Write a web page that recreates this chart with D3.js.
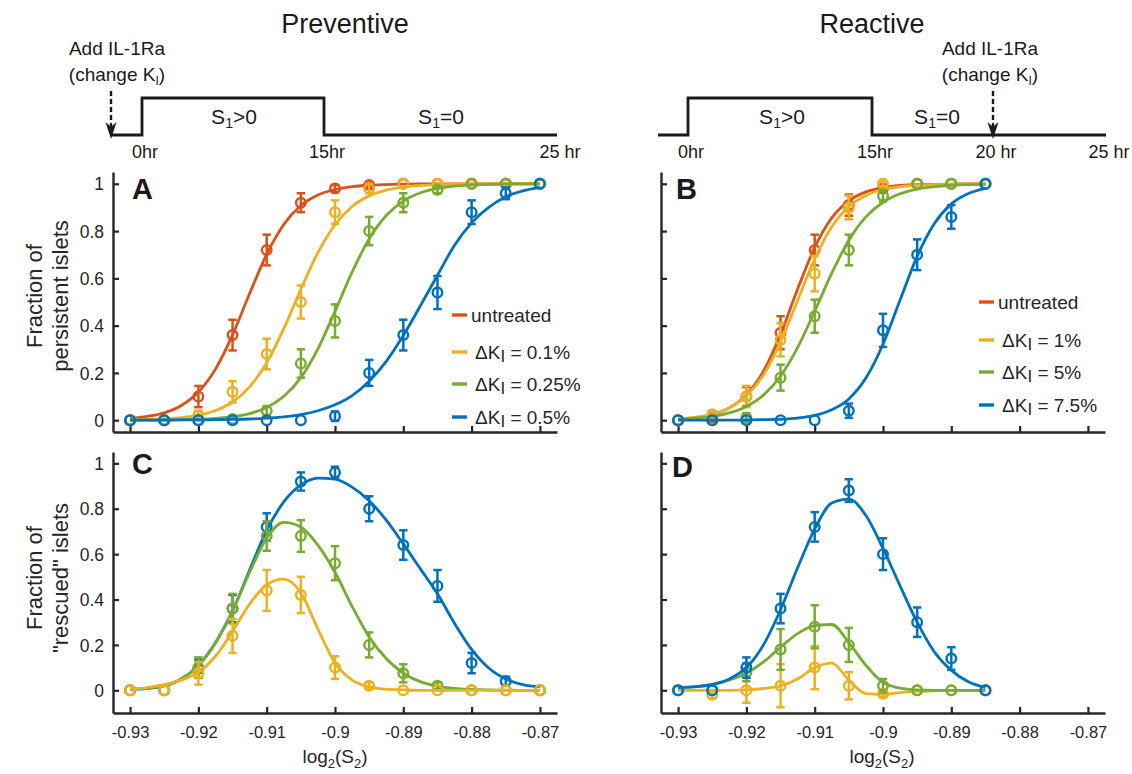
<!DOCTYPE html>
<html><head><meta charset="utf-8">
<script src="https://cdn.jsdelivr.net/npm/d3@7"></script>
<style>body{margin:0;background:#fff}svg{display:block}</style>
</head><body>
<svg id="c" width="1132" height="774"></svg>
<script>
// ---------------- DATA ----------------
const xFull  = [-0.93,-0.925,-0.92,-0.915,-0.91,-0.905,-0.9,-0.895,-0.89,-0.885,-0.88,-0.875,-0.87];
const xShort = [-0.93,-0.925,-0.92,-0.915,-0.91,-0.905,-0.9,-0.895,-0.89,-0.885];
const fitXFull  = [-0.93,-0.9275,-0.925,-0.9225,-0.92,-0.9175,-0.915,-0.9125,-0.91,-0.9075,-0.905,-0.9025,-0.9,-0.8975,-0.895,-0.8925,-0.89,-0.8875,-0.885,-0.8825,-0.88,-0.8775,-0.875,-0.8725,-0.87];
const fitXShort = [-0.93,-0.9275,-0.925,-0.9225,-0.92,-0.9175,-0.915,-0.9125,-0.91,-0.9075,-0.905,-0.9025,-0.9,-0.8975,-0.895,-0.8925,-0.89,-0.8875,-0.885];
const xTicks = [-0.93,-0.92,-0.91,-0.9,-0.89,-0.88,-0.87];
const yTicks = [0,0.2,0.4,0.6,0.8,1];

// Panel A (preventive, persistent)
const persistA_untreated = [0,0,0.10,0.36,0.72,0.92,0.98,0.995,1,1,1,1,1];
const errA_untreated     = [0,0,0.045,0.065,0.065,0.04,0.015,0.01,0,0,0,0,0];
const persistA_k01 = [0,0,0.02,0.12,0.28,0.50,0.88,0.98,1,1,1,1,1];
const errA_k01     = [0,0,0.02,0.045,0.065,0.07,0.05,0.02,0,0,0,0,0];
const persistA_k025 = [0,0,0,0.005,0.04,0.24,0.42,0.80,0.92,0.975,1,1,1];
const errA_k025     = [0,0,0,0,0.02,0.06,0.07,0.06,0.04,0.015,0,0,0];
const persistA_k05 = [0,0,0,0,0,0,0.017,0.20,0.36,0.54,0.88,0.96,1];
const errA_k05     = [0,0,0,0,0,0,0.02,0.055,0.065,0.07,0.05,0.025,0];
const fitA_untreated = [0.008,0.016,0.031,0.062,0.119,0.216,0.361,0.536,0.702,0.828,0.908,0.953,0.976,0.988,0.994,0.997,0.999,1,1,1,1,1,1,1,1];
const fitA_k01  = [0.001,0.003,0.006,0.011,0.021,0.041,0.077,0.141,0.243,0.387,0.554,0.709,0.827,0.904,0.949,0.973,0.986,0.993,0.996,0.998,0.999,1,1,1,1];
const fitA_k025 = [0,0,0.001,0.002,0.004,0.008,0.015,0.028,0.054,0.101,0.180,0.302,0.460,0.626,0.767,0.866,0.927,0.962,0.980,0.990,0.995,0.998,0.999,1,1];
const fitA_k05  = [0,0,0,0.001,0.001,0.002,0.003,0.005,0.009,0.014,0.024,0.040,0.065,0.104,0.165,0.249,0.358,0.484,0.613,0.74,0.835,0.90,0.945,0.97,0.985];

// Panel B (reactive, persistent)
const persistB_untreated = [0,0.01,0.10,0.37,0.72,0.91,0.98,1,1,1];
const errB_untreated     = [0,0.01,0.04,0.07,0.065,0.045,0.015,0,0,0];
const persistB_k1  = [0,0.025,0.10,0.34,0.62,0.90,1,1,1,1];
const errB_k1      = [0,0.015,0.045,0.07,0.075,0.05,0.01,0,0,0];
const persistB_k5  = [0,0,0.01,0.18,0.44,0.72,0.95,1,1,1];
const errB_k5      = [0,0,0.02,0.055,0.07,0.065,0.025,0,0,0];
const persistB_k75 = [0,0,0,0,0,0.04,0.38,0.70,0.86,1];
const errB_k75     = [0,0,0,0,0,0.03,0.07,0.065,0.05,0];
const fitB_untreated = [0.005,0.011,0.024,0.052,0.107,0.207,0.363,0.555,0.731,0.856,0.928,0.966,0.984,0.993,0.997,0.998,0.999,1,1];
const fitB_k1  = [0.006,0.012,0.025,0.052,0.102,0.191,0.330,0.507,0.682,0.818,0.904,0.951,0.976,0.988,0.994,0.997,0.998,0.999,1];
const fitB_k5  = [0.004,0.009,0.016,0.031,0.058,0.106,0.187,0.307,0.461,0.622,0.761,0.860,0.922,0.958,0.978,0.988,0.994,0.997,0.998];
const fitB_k75 = [0,0,0,0,0.001,0.002,0.004,0.009,0.020,0.044,0.090,0.178,0.321,0.508,0.693,0.831,0.915,0.959,0.981];

// Panel C (preventive, rescued)
const rescC_k01  = [0,0,0.075,0.24,0.44,0.42,0.10,0.02,0,0,0,0,0];
const errC_k01   = [0,0,0.05,0.075,0.09,0.08,0.05,0.015,0,0,0,0,0];
const rescC_k025 = [0,0,0.10,0.36,0.68,0.68,0.56,0.20,0.075,0.02,0,0,0];
const errC_k025  = [0,0,0.045,0.065,0.065,0.07,0.075,0.055,0.04,0.015,0,0,0];
const rescC_k05  = [0,0,0.095,0.36,0.72,0.92,0.96,0.80,0.64,0.46,0.12,0.04,0];
const errC_k05   = [0,0,0.04,0.06,0.06,0.04,0.025,0.055,0.065,0.07,0.045,0.02,0];
const fitC_k05  = [0.005,0.008,0.02,0.05,0.11,0.21,0.35,0.53,0.705,0.83,0.905,0.935,0.93,0.895,0.835,0.75,0.645,0.535,0.425,0.295,0.18,0.098,0.05,0.025,0.015];
const fitC_k025 = [0.005,0.01,0.02,0.05,0.11,0.21,0.35,0.52,0.67,0.74,0.72,0.64,0.52,0.37,0.235,0.14,0.075,0.038,0.018,0.008,0.004,0.002,0.001,0,0];
const fitC_k01  = [0.005,0.012,0.025,0.045,0.08,0.15,0.26,0.38,0.465,0.49,0.43,0.27,0.12,0.045,0.015,0.005,0.002,0,0,0,0,0,0,0,0];

// Panel D (reactive, rescued)
const rescD_k1  = [0,-0.02,0,0.02,0.10,0.02,-0.015,0,0,0];
const errD_k1   = [0,0.015,0.055,0.095,0.095,0.06,0.015,0,0,0];
const rescD_k5  = [0,0,0.08,0.18,0.28,0.20,0.02,0,0,0];
const errD_k5   = [0,0,0.04,0.09,0.095,0.075,0.03,0,0,0];
const rescD_k75 = [0,0,0.10,0.36,0.72,0.88,0.60,0.30,0.14,0];
const errD_k75  = [0,0,0.045,0.065,0.065,0.05,0.07,0.065,0.05,0];
const fitD_k75 = [0.012,0.016,0.026,0.05,0.10,0.20,0.355,0.54,0.71,0.825,0.842,0.77,0.625,0.46,0.30,0.17,0.088,0.038,0.012];
const fitD_k5  = [0.01,0.015,0.025,0.045,0.075,0.125,0.19,0.25,0.285,0.29,0.21,0.11,0.035,0.01,0.002,0,0,0,0];
const fitD_k1  = [0,0,0,0,0.002,0.008,0.02,0.05,0.10,0.12,0.045,-0.015,-0.018,-0.01,-0.005,-0.002,0,0,0];

const legendA = ["untreated", ["0.1%"], ["0.25%"], ["0.5%"]];
const legendB = ["untreated", ["1%"], ["5%"], ["7.5%"]];

const timeLabelsPrev = [[0,"0hr"],[15,"15hr"],[25,"25 hr"]];
const timeLabelsReact = [[0,"0hr"],[15,"15hr"],[20,"20 hr"],[25,"25 hr"]];
const stepProfile = [[-2.5,0],[0,0],[0,1],[15,1],[15,0],[25,0]];

// ---------------- DRAWING ----------------
const FONT = '"Liberation Sans", Arial, Helvetica, sans-serif';
const AX = "#262626";
const C_OR = "#D95319", C_YE = "#EDB120", C_GR = "#77AC30", C_BL = "#0072BD";
const svg = d3.select("#c").attr("font-family", FONT);
const xDomain = [-0.9325, -0.8675];
const fmtX = d => String(+d.toFixed(3));
const fmtY = d => String(+d.toFixed(1));

function panel(cfg) {
  const x = d3.scaleLinear().domain(xDomain).range([cfg.left, cfg.right]);
  const y = d3.scaleLinear().domain(cfg.yDomain).range([cfg.bottom, cfg.top]);
  const g = svg.append("g");

  const ax = d3.axisBottom(x).tickValues(xTicks).tickSizeInner(-6).tickSizeOuter(0)
    .tickPadding(13).tickFormat(cfg.xLabels ? fmtX : () => "");
  const gx = g.append("g").attr("transform", `translate(0,${cfg.bottom})`).call(ax);
  const ay = d3.axisLeft(y).tickValues(yTicks).tickSizeInner(-6).tickSizeOuter(0)
    .tickPadding(9).tickFormat(cfg.yLabels ? fmtY : () => "");
  const gy = g.append("g").attr("transform", `translate(${cfg.left},0)`).call(ay);
  [gx, gy].forEach(a => {
    a.select(".domain").attr("stroke", AX).attr("stroke-width", 2.4);
    a.selectAll(".tick line").attr("stroke", AX).attr("stroke-width", 2.2);
    a.selectAll(".tick text").attr("fill", AX).attr("font-family", FONT);
  });
  gx.selectAll(".tick text").attr("font-size", 16.5);
  gy.selectAll(".tick text").attr("font-size", 17.5).attr("dy", "0.35em");

  const line = d3.line().x(d => x(d[0])).y(d => y(d[1])).curve(d3.curveMonotoneX);
  cfg.series.forEach(s => {
    const sg = g.append("g");
    sg.append("path").datum(s.fitX.map((v, i) => [v, s.fitY[i]]))
      .attr("d", line).attr("fill", "none").attr("stroke", s.color).attr("stroke-width", 2.8);
    const pts = s.x.map((v, i) => ({x: v, y: s.y[i], e: s.err[i]}));
    const eb = sg.selectAll(".eb").data(pts.filter(p => p.e > 0)).join("g");
    eb.append("line").attr("x1", p => x(p.x)).attr("x2", p => x(p.x))
      .attr("y1", p => y(p.y - p.e)).attr("y2", p => y(p.y + p.e));
    eb.append("line").attr("x1", p => x(p.x) - 4.2).attr("x2", p => x(p.x) + 4.2)
      .attr("y1", p => y(p.y - p.e)).attr("y2", p => y(p.y - p.e));
    eb.append("line").attr("x1", p => x(p.x) - 4.2).attr("x2", p => x(p.x) + 4.2)
      .attr("y1", p => y(p.y + p.e)).attr("y2", p => y(p.y + p.e));
    eb.selectAll("line").attr("stroke", s.color).attr("stroke-width", 2.5);
    sg.selectAll("circle").data(pts).join("circle")
      .attr("cx", p => x(p.x)).attr("cy", p => y(p.y)).attr("r", 4.8)
      .attr("fill", "none").attr("stroke", s.color).attr("stroke-width", 2.4);
  });

  g.append("text").attr("x", cfg.letterX).attr("y", cfg.letterY).text(cfg.letter)
    .attr("font-size", 29).attr("font-weight", "bold").attr("fill", "#1a1a1a");

  if (cfg.legend) {
    const lg = g.append("g");
    cfg.legend.items.forEach((item, i) => {
      const yy = cfg.legend.ys[i];
      lg.append("line").attr("x1", cfg.legend.x).attr("x2", cfg.legend.x + 15)
        .attr("y1", yy).attr("y2", yy).attr("stroke", item.color).attr("stroke-width", 3.4);
      const t = lg.append("text").attr("x", cfg.legend.x + (typeof item.label === "string" ? 19 : 23))
        .attr("y", yy + 7).attr("font-size", 19).attr("fill", AX);
      if (typeof item.label === "string") t.text(item.label);
      else {
        t.append("tspan").text("\u0394K");
        t.append("tspan").text("I").attr("font-size", 17).attr("dy", 3);
        t.append("tspan").text(" = " + item.label[0]).attr("dy", -3);
      }
    });
  }
  return {x, y};
}

// Panel A
panel({left: 113, right: 557, top: 172, bottom: 432, yDomain: [-0.05, 1.05],
  xLabels: false, yLabels: true, letter: "A", letterX: 132, letterY: 199,
  series: [
    {x: xFull, y: persistA_untreated, err: errA_untreated, fitX: fitXFull, fitY: fitA_untreated, color: C_OR},
    {x: xFull, y: persistA_k01, err: errA_k01, fitX: fitXFull, fitY: fitA_k01, color: C_YE},
    {x: xFull, y: persistA_k025, err: errA_k025, fitX: fitXFull, fitY: fitA_k025, color: C_GR},
    {x: xFull, y: persistA_k05, err: errA_k05, fitX: fitXFull, fitY: fitA_k05, color: C_BL}],
  legend: {x: 452, ys: [315, 352, 384, 417],
    items: [{label: legendA[0], color: C_OR}, {label: legendA[1], color: C_YE},
            {label: legendA[2], color: C_GR}, {label: legendA[3], color: C_BL}]}
});
// Panel B
panel({left: 661, right: 1105, top: 172, bottom: 432, yDomain: [-0.05, 1.05],
  xLabels: false, yLabels: false, letter: "B", letterX: 676, letterY: 199,
  series: [
    {x: xShort, y: persistB_untreated, err: errB_untreated, fitX: fitXShort, fitY: fitB_untreated, color: C_OR},
    {x: xShort, y: persistB_k1, err: errB_k1, fitX: fitXShort, fitY: fitB_k1, color: C_YE},
    {x: xShort, y: persistB_k5, err: errB_k5, fitX: fitXShort, fitY: fitB_k5, color: C_GR},
    {x: xShort, y: persistB_k75, err: errB_k75, fitX: fitXShort, fitY: fitB_k75, color: C_BL}],
  legend: {x: 979, ys: [302, 340, 372, 405],
    items: [{label: legendB[0], color: C_OR}, {label: legendB[1], color: C_YE},
            {label: legendB[2], color: C_GR}, {label: legendB[3], color: C_BL}]}
});
// Panel C
panel({left: 113, right: 557, top: 452, bottom: 713, yDomain: [-0.1, 1.05],
  xLabels: true, yLabels: true, letter: "C", letterX: 132, letterY: 474,
  series: [
    {x: xFull, y: rescC_k05, err: errC_k05, fitX: fitXFull, fitY: fitC_k05, color: C_BL},
    {x: xFull, y: rescC_k025, err: errC_k025, fitX: fitXFull, fitY: fitC_k025, color: C_GR},
    {x: xFull, y: rescC_k01, err: errC_k01, fitX: fitXFull, fitY: fitC_k01, color: C_YE}]
});
// Panel D
panel({left: 661, right: 1105, top: 452, bottom: 713, yDomain: [-0.1, 1.05],
  xLabels: true, yLabels: false, letter: "D", letterX: 672, letterY: 477,
  series: [
    {x: xShort, y: rescD_k1, err: errD_k1, fitX: fitXShort, fitY: fitD_k1, color: C_YE},
    {x: xShort, y: rescD_k5, err: errD_k5, fitX: fitXShort, fitY: fitD_k5, color: C_GR},
    {x: xShort, y: rescD_k75, err: errD_k75, fitX: fitXShort, fitY: fitD_k75, color: C_BL}]
});

// x axis titles
[335, 882].forEach(cx => {
  const t = svg.append("text").attr("x", cx).attr("y", 763).attr("text-anchor", "middle")
    .attr("font-size", 19).attr("fill", AX);
  t.append("tspan").text("log");
  t.append("tspan").text("2").attr("font-size", 13).attr("dy", 5);
  t.append("tspan").text("(S").attr("dy", -5);
  t.append("tspan").text("2").attr("font-size", 13).attr("dy", 5);
  t.append("tspan").text(")").attr("dy", -5);
});

// y axis titles
function yTitle(cy, l1, l2) {
  const g = svg.append("g").attr("font-size", 22).attr("fill", AX).attr("text-anchor", "middle");
  g.append("text").attr("transform", `translate(42,${cy}) rotate(-90)`).text(l1);
  g.append("text").attr("transform", `translate(68,${cy}) rotate(-90)`).text(l2);
}
yTitle(296, "Fraction of", "persistent islets");
yTitle(578, "Fraction of", "\"rescued\" islets");

// Titles
svg.append("text").attr("x", 345).attr("y", 33).attr("text-anchor", "middle")
  .attr("font-size", 27).attr("fill", "#1a1a1a").text("Preventive");
svg.append("text").attr("x", 872).attr("y", 33).attr("text-anchor", "middle")
  .attr("font-size", 27).attr("fill", "#1a1a1a").text("Reactive");

// Timelines
function timeline(tScale, labels, arrowT, sLabels, addX) {
  const yS = d3.scaleLinear().domain([0, 1]).range([135, 98]);
  const g = svg.append("g");
  g.append("path").datum(stepProfile)
    .attr("d", d3.line().x(d => tScale(d[0])).y(d => yS(d[1])))
    .attr("fill", "none").attr("stroke", "#1a1a1a").attr("stroke-width", 2.8);
  labels.forEach(([h, s]) => {
    g.append("text").attr("x", tScale(h) + 3).attr("y", 158).attr("text-anchor", "middle")
      .attr("font-size", 18).attr("fill", "#1a1a1a").text(s);
  });
  sLabels.forEach(([cx, rel]) => {
    const t = g.append("text").attr("x", cx).attr("y", 124).attr("text-anchor", "middle")
      .attr("font-size", 21).attr("fill", "#1a1a1a");
    t.append("tspan").text("S");
    t.append("tspan").text("1").attr("font-size", 14).attr("dy", 4);
    t.append("tspan").text(rel).attr("dy", -4);
  });
  const ax = tScale(arrowT);
  g.append("line").attr("x1", ax).attr("x2", ax).attr("y1", 91).attr("y2", 127)
    .attr("stroke", "#1a1a1a").attr("stroke-width", 2.4).attr("stroke-dasharray", "5,3");
  g.append("path").attr("d", `M${ax},139 L${ax - 5.5},122 L${ax},127 L${ax + 5.5},122 Z`)
    .attr("fill", "#1a1a1a");
  g.append("text").attr("x", addX).attr("y", 55).attr("text-anchor", "middle")
    .attr("font-size", 19).attr("fill", "#1a1a1a").text("Add IL-1Ra");
  const t2 = g.append("text").attr("x", addX).attr("y", 81).attr("text-anchor", "middle")
    .attr("font-size", 19).attr("fill", "#1a1a1a");
  t2.append("tspan").text("(change K");
  t2.append("tspan").text("I").attr("font-size", 12).attr("dy", 4);
  t2.append("tspan").text(")").attr("dy", -4);
}
const tPrev = d3.scaleLinear().domain([-2.5, 0, 15, 25]).range([111, 142, 324, 557]);
const tReact = d3.scaleLinear().domain([-2.5, 0, 15, 20, 25]).range([658, 688, 872, 993, 1106]);
timeline(tPrev, timeLabelsPrev, -2.5, [[234, ">0"], [441, "=0"]], 117);
timeline(tReact, timeLabelsReact, 20, [[782, ">0"], [937, "=0"]], 990);
</script>
</body></html>
